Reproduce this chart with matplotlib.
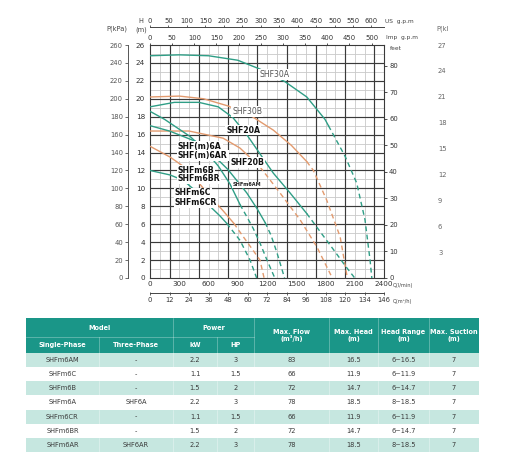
import numpy as np
import matplotlib
matplotlib.use('Agg')
import matplotlib.pyplot as plt
from matplotlib.patches import Rectangle

# --- pump curves, Q in l/min, H in m ---
# each curve: q, h, number of points in the solid part (rest is dashed)
shf30a_q = [0, 300, 600, 900, 1130, 1385, 1608, 1795, 1830, 2000, 2120, 2205, 2257, 2275]
shf30a_h = [24.8, 24.9, 24.8, 24.3, 23.3, 21.9, 20.2, 17.7, 17.0, 13.6, 10.6, 6.5, 2.0, 0]
shf30b_q = [0, 300, 550, 800, 1050, 1265, 1450, 1607, 1676, 1812, 1950, 2024]
shf30b_h = [20.2, 20.3, 20.0, 19.2, 18.0, 16.5, 14.8, 13.0, 12.0, 8.7, 4.6, 0]
shf20a_q = [0, 250, 500, 700, 850, 992, 1265, 1436, 1607, 1750, 1900, 2000, 2100]
shf20a_h = [19.1, 19.6, 19.6, 19.1, 17.9, 16.0, 11.7, 9.5, 7.2, 5.1, 2.9, 1.4, 0]
shf20b_q = [0, 400, 750, 923, 1128, 1333, 1539, 1710, 1870]
shf20b_h = [16.4, 16.4, 15.6, 14.5, 12.4, 9.5, 6.5, 3.5, 0]
m6a_q = [0, 150, 300, 410, 550, 700, 820, 923, 1000, 1060, 1128, 1200, 1280]
m6a_h = [18.6, 17.7, 16.6, 15.8, 14.4, 12.5, 10.5, 8.2, 6.7, 5.5, 3.9, 2.0, 0]
m6am_q = [0, 200, 479, 650, 800, 992, 1100, 1180, 1240, 1300, 1380]
m6am_h = [17.0, 16.4, 15.2, 13.7, 12.1, 9.5, 7.7, 6.2, 4.8, 2.9, 0]
m6b_q = [0, 205, 350, 480, 615, 750, 860, 957, 1050, 1128, 1170]
m6b_h = [14.7, 13.5, 12.4, 10.9, 9.1, 7.5, 6.1, 4.6, 3.2, 2.0, 0]
m6c_q = [0, 205, 342, 480, 615, 720, 787, 923, 1026, 1094]
m6c_h = [12.0, 11.5, 10.9, 9.6, 8.0, 6.9, 6.1, 4.2, 2.0, 0]

TEAL = '#2f9e86'
ORANGE = '#e29a6e'
curves = [
    (shf30a_q, shf30a_h, 9, TEAL),
    (shf30b_q, shf30b_h, 8, ORANGE),
    (shf20a_q, shf20a_h, 9, TEAL),
    (shf20b_q, shf20b_h, 5, ORANGE),
    (m6a_q, m6a_h, 8, TEAL),
    (m6am_q, m6am_h, 8, TEAL),
    (m6b_q, m6b_h, 7, ORANGE),
    (m6c_q, m6c_h, 7, TEAL),
]

# curve labels: text, q, h, bold, align
curve_labels = [
    ('SHF30A', 1272, 22.7, False, 'center'),
    ('SHF30B', 995, 18.6, False, 'center'),
    ('SHF20A', 954, 16.5, True, 'center'),
    ('SHF(m)6A', 287, 14.7, True, 'left'),
    ('SHF(m)6AR', 287, 13.7, True, 'left'),
    ('SHF20B', 1000, 12.9, True, 'center'),
    ('SHFm6B', 287, 12.05, True, 'left'),
    ('SHFm6BR', 287, 11.05, True, 'left'),
    ('SHFm6C', 256, 9.5, True, 'left'),
    ('SHFm6CR', 256, 8.4, True, 'left'),
]

m3h_labels = ['0', '12', '24', '36', '48', '60', '72', '84', '96', '108', '120', '134', '146']

# --- table data ---
t_single = ['SHFm6AM', 'SHFm6C', 'SHFm6B', 'SHFm6A', 'SHFm6CR', 'SHFm6BR', 'SHFm6AR']
t_three = ['-', '-', '-', 'SHF6A', '-', '-', 'SHF6AR']
t_kw = ['2.2', '1.1', '1.5', '2.2', '1.1', '1.5', '2.2']
t_hp = ['3', '1.5', '2', '3', '1.5', '2', '3']
t_flow = ['83', '66', '72', '78', '66', '72', '78']
t_head = ['16.5', '11.9', '14.7', '18.5', '11.9', '14.7', '18.5']
t_range = ['6~16.5', '6~11.9', '6~14.7', '8~18.5', '6~11.9', '6~14.7', '8~18.5']
t_suction = ['7', '7', '7', '7', '7', '7', '7']

W, H = 512, 466
PT = 0.72  # points per pixel at dpi 100
fig = plt.figure(figsize=(5.12, 4.66), dpi=100)


def rect(l, t, r, b):
    return [l / W, 1 - b / H, (r - l) / W, (b - t) / H]


def ftext(x, y, s, **kw):
    fig.text(x / W, 1 - y / H, s, **kw)


# table first (full figure axes in pixel units)
tax = fig.add_axes([0, 0, 1, 1])
tax.set_xlim(0, W)
tax.set_ylim(H, 0)
tax.axis('off')
cols = [26, 99, 173, 217, 254, 329, 378, 429, 479]
HDR = '#1a9688'
LIGHT = '#c6e7e0'
tax.add_patch(Rectangle((26, 318), 453, 35, color=HDR, lw=0))
for x in cols[1:-1]:
    top = 337 if x in (99, 217) else 318
    tax.plot([x, x], [top, 353], color='white', lw=0.4, alpha=0.5)
tax.plot([26, 254], [337, 337], color='white', lw=0.4, alpha=0.5)
hkw = dict(color='white', fontsize=4.7, fontweight='bold', ha='center', va='center')
tax.text(99.5, 327.5, 'Model', **hkw)
tax.text(213.5, 327.5, 'Power', **hkw)
tax.text(62.5, 345, 'Single-Phase', **hkw)
tax.text(136, 345, 'Three-Phase', **hkw)
tax.text(195, 345, 'kW', **hkw)
tax.text(235.5, 345, 'HP', **hkw)
tax.text(291.5, 335.5, 'Max. Flow\n(m³/h)', linespacing=1.15, **hkw)
tax.text(353.5, 335.5, 'Max. Head\n(m)', linespacing=1.15, **hkw)
tax.text(403.5, 335.5, 'Head Range\n(m)', linespacing=1.15, **hkw)
tax.text(454, 335.5, 'Max. Suction\n(m)', linespacing=1.15, **hkw)

row_h = (452 - 353) / len(t_single)
rows = list(zip(t_single, t_three, t_kw, t_hp, t_flow, t_head, t_range, t_suction))
for i, row in enumerate(rows):
    y0 = 353 + i * row_h
    if i % 2 == 0:
        tax.add_patch(Rectangle((26, y0), 453, row_h, color=LIGHT, lw=0))
        for x in cols[1:-1]:
            tax.plot([x, x], [y0, y0 + row_h], color='white', lw=0.4, alpha=0.6)
    for j, val in enumerate(row):
        tax.text((cols[j] + cols[j + 1]) / 2, y0 + row_h / 2, val, color='#3a3a3a',
                 fontsize=4.8, ha='center', va='center')

# main chart
ax = fig.add_axes(rect(150, 45, 384, 278))
ax.set_xlim(0, 2400)
ax.set_ylim(0, 26)
for q in np.arange(100, 2400, 100):
    ax.axvline(q, color='#c9c9c9', lw=0.6, zorder=1)
for h in np.arange(1, 26, 1):
    ax.axhline(h, color='#c9c9c9', lw=0.6, zorder=1)
for q in np.arange(200, 2400, 300):
    ax.axvline(q, color='#3a3a3a', lw=0.85, zorder=1.1)
for h in np.arange(2, 26, 2):
    ax.axhline(h, color='#3a3a3a', lw=0.85, zorder=1.1)
ax.set_xticks(np.arange(0, 2401, 300))
ax.set_yticks(np.arange(0, 27, 2))
ax.tick_params(length=0, labelsize=5.2, labelcolor='#333333')
ax.tick_params(axis='x', pad=2.5)
ax.tick_params(axis='y', pad=3.5)
for s in ax.spines.values():
    s.set_color('#3a3a3a')
    s.set_linewidth(0.8)

for q, h, n, c in curves:
    ax.plot(q[:n], h[:n], color=c, lw=1.0, zorder=3)
    ax.plot(q[n - 1:], h[n - 1:], color=c, lw=1.0, ls=(0, (3.5, 2.5)), zorder=3)

for txt, q, h, bold, ha in curve_labels:
    ax.text(q, h, txt, fontsize=5.6, ha=ha, va='center',
            fontweight='bold' if bold else 'normal',
            color='#111111' if bold else '#555555', zorder=5,
            bbox=dict(facecolor='white', edgecolor='none', pad=0.6))
ax.text(851, 10.4, 'SHFm6AM', fontsize=3.6, fontweight='bold', ha='left', va='center',
        color='#222222', zorder=5, bbox=dict(facecolor='white', edgecolor='none', pad=0.4))

# left P(kPa) axis
ax_kpa = ax.twinx()
ax_kpa.set_ylim(0, 260)
ax_kpa.set_yticks(np.arange(0, 261, 20))
ax_kpa.yaxis.set_ticks_position('left')
ax_kpa.yaxis.set_label_position('left')
for k, s in ax_kpa.spines.items():
    s.set_visible(k == 'left')
ax_kpa.spines['left'].set_position(('outward', 22 * PT))
ax_kpa.spines['left'].set_color('#555555')
ax_kpa.spines['left'].set_linewidth(0.7)
ax_kpa.tick_params(length=3 * PT, width=0.6, pad=1.5, labelsize=4.9,
                   color='#555555', labelcolor='#555555')

# right feet axis
ax_ft = ax.twinx()
ax_ft.set_ylim(0, 87.9)
ax_ft.set_yticks(np.arange(0, 81, 10))
for k, s in ax_ft.spines.items():
    s.set_visible(False)
ax_ft.tick_params(length=3 * PT, width=0.6, pad=1.5, labelsize=4.9,
                  color='#333333', labelcolor='#333333')

# far right column
ax_p2 = ax.twinx()
ax_p2.set_ylim(0, 27)
ax_p2.set_yticks(np.arange(3, 28, 3))
for k, s in ax_p2.spines.items():
    s.set_visible(False)
ax_p2.spines['right'].set_position(('outward', 54 * PT))
ax_p2.tick_params(length=0, pad=0, labelsize=4.9, labelcolor='#666666')

# top axes
ax_imp = ax.twiny()
ax_imp.set_xlim(0, 2400 / 4.546)
ax_imp.set_xticks(np.arange(0, 501, 50))
for k, s in ax_imp.spines.items():
    s.set_visible(False)
ax_imp.tick_params(length=2.5 * PT, width=0.6, pad=1, labelsize=4.9,
                   color='#333333', labelcolor='#333333')

ax_us = ax.twiny()
ax_us.set_xlim(0, 2400 / 3.785)
ax_us.set_xticks(np.arange(0, 601, 50))
for k, s in ax_us.spines.items():
    s.set_visible(k == 'top')
ax_us.spines['top'].set_position(('outward', 18 * PT))
ax_us.spines['top'].set_linewidth(0.7)
ax_us.spines['top'].set_color('#444444')
ax_us.tick_params(length=2 * PT, width=0.6, pad=1, labelsize=4.9,
                  color='#444444', labelcolor='#333333')

# bottom m3/h axis
ax_m3 = ax.twiny()
ax_m3.set_xlim(0, 2400)
ax_m3.xaxis.set_ticks_position('bottom')
ax_m3.xaxis.set_label_position('bottom')
ax_m3.set_xticks(np.arange(0, 2401, 200))
ax_m3.set_xticklabels(m3h_labels)
for k, s in ax_m3.spines.items():
    s.set_visible(k == 'bottom')
ax_m3.spines['bottom'].set_position(('outward', 15 * PT))
ax_m3.spines['bottom'].set_linewidth(0.7)
ax_m3.spines['bottom'].set_color('#444444')
ax_m3.tick_params(direction='inout', length=3 * PT, width=0.6, pad=2, labelsize=4.9,
                  color='#444444', labelcolor='#333333')

# axis captions
ftext(117, 29, 'P(kPa)', fontsize=4.8, ha='center', va='center', color='#444444')
ftext(141, 21, 'H', fontsize=4.8, ha='center', va='center', color='#444444')
ftext(141, 30, '(m)', fontsize=4.8, ha='center', va='center', color='#444444')
ftext(385, 21, 'US  g.p.m', fontsize=4.2, ha='left', va='center', color='#444444')
ftext(386, 37, 'Imp  g.p.m', fontsize=4.2, ha='left', va='center', color='#444444')
ftext(390, 48, 'feet', fontsize=4.2, ha='left', va='center', color='#444444')
ftext(443, 29, 'P(kI', fontsize=4.8, ha='center', va='center', color='#666666')
ftext(393, 285, 'Q(l/min)', fontsize=3.6, ha='left', va='center', color='#444444')
ftext(393, 302, 'Q(m³/h)', fontsize=3.6, ha='left', va='center', color='#444444')

fig.savefig('out.png', dpi=100)
